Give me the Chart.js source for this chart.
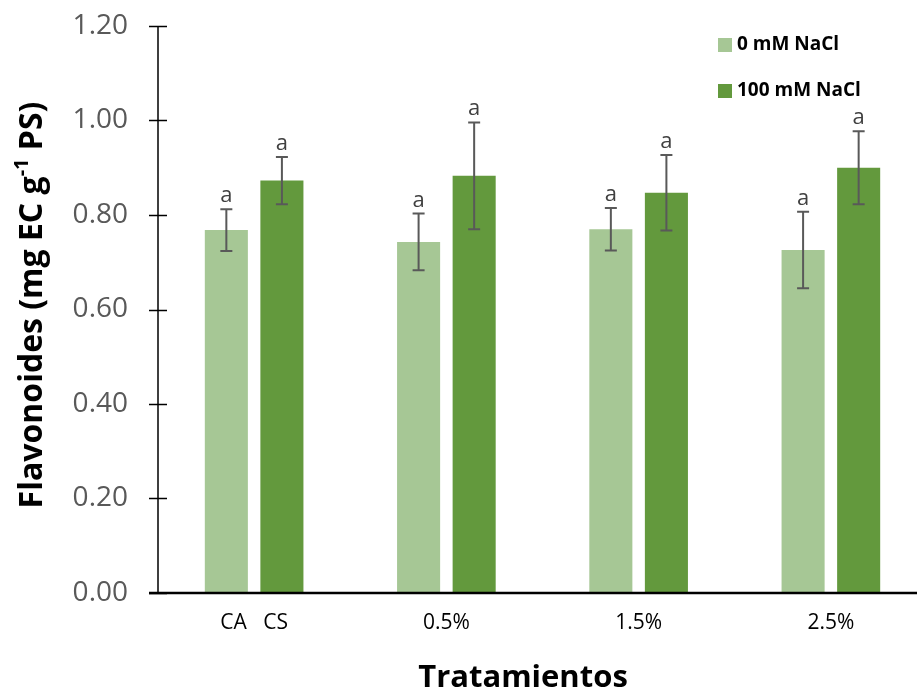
<!DOCTYPE html>
<html>
<head>
<meta charset="utf-8">
<script src="https://cdn.jsdelivr.net/npm/chart.js@4.4.0/dist/chart.umd.min.js"></script>
<style>
  html, body { margin: 0; padding: 0; background: #fff; overflow: hidden; }
  #wrap { width: 917px; height: 692px; overflow: hidden; }
</style>
</head>
<body>
<div id="wrap"><canvas id="chart" width="927" height="692"></canvas></div>
<script>
// Data
const categories = ['CA   CS', '0.5%', '1.5%', '2.5%'];
const seriesNames = ['0 mM NaCl', '100 mM NaCl'];
const salt0 = [0.768, 0.743, 0.770, 0.726];
const salt100 = [0.873, 0.883, 0.847, 0.900];
const err0 = [0.044, 0.060, 0.045, 0.081];
const err100 = [0.050, 0.113, 0.080, 0.077];
const letters0 = ['a', 'a', 'a', 'a'];
const letters100 = ['a', 'a', 'a', 'a'];
const yTicks = [0, 0.2, 0.4, 0.6, 0.8, 1.0, 1.2];

const COLORS = ['#a6c795', '#63993d'];
const FONT = "'Open Sans', 'Liberation Sans', sans-serif";

// error bars, letters, crossing ticks, titles, legend
const decorPlugin = {
    id: 'decor',
    afterDatasetsDraw(chart) {
        const ctx = chart.ctx;
        const y = chart.scales.y;
        const area = chart.chartArea;

        // error bars + significance letters
        const errs = [err0, err100];
        const letters = [letters0, letters100];
        chart.data.datasets.forEach((ds, di) => {
            const meta = chart.getDatasetMeta(di);
            meta.data.forEach((bar, i) => {
                const v = ds.data[i];
                const top = y.getPixelForValue(v + errs[di][i]);
                const bot = y.getPixelForValue(v - errs[di][i]);
                ctx.save();
                ctx.strokeStyle = '#595959';
                ctx.lineWidth = 2;
                ctx.beginPath();
                ctx.moveTo(bar.x, top); ctx.lineTo(bar.x, bot);
                ctx.moveTo(bar.x - 6, top); ctx.lineTo(bar.x + 6, top);
                ctx.moveTo(bar.x - 6, bot); ctx.lineTo(bar.x + 6, bot);
                ctx.stroke();
                ctx.fillStyle = '#404040';
                ctx.font = '22px ' + FONT;
                ctx.textAlign = 'center';
                ctx.textBaseline = 'alphabetic';
                ctx.fillText(letters[di][i], bar.x, top - 7);
                ctx.restore();
            });
        });

        // axis lines
        ctx.save();
        ctx.strokeStyle = '#000';
        ctx.lineWidth = 1.5;
        ctx.beginPath();
        ctx.moveTo(area.left, area.top);
        ctx.lineTo(area.left, area.bottom);
        yTicks.forEach(t => {
            const py = Math.round(y.getPixelForValue(t)) + 0.5;
            ctx.moveTo(area.left - 9, py);
            ctx.lineTo(area.left + 9, py);
        });
        ctx.stroke();
        ctx.lineWidth = 2.5;
        ctx.beginPath();
        ctx.moveTo(area.left - 9, area.bottom);
        ctx.lineTo(chart.width, area.bottom);
        ctx.stroke();
        ctx.restore();

        // y title with superscript
        ctx.save();
        ctx.translate(33, 305);
        ctx.rotate(-Math.PI / 2);
        ctx.fillStyle = '#000';
        ctx.textBaseline = 'middle';
        const big = 'bold 32px ' + FONT;
        const small = 'bold 20px ' + FONT;
        const parts = [['Flavonoides (mg EC g', big, 0], ['-1', small, -11], [' PS)', big, 0]];
        let total = 0;
        parts.forEach(p => { ctx.font = p[1]; total += ctx.measureText(p[0]).width; });
        let x = -total / 2;
        ctx.textAlign = 'left';
        parts.forEach(p => {
            ctx.font = p[1];
            ctx.fillText(p[0], x, p[2]);
            x += ctx.measureText(p[0]).width;
        });
        ctx.restore();

        // x title
        ctx.save();
        ctx.fillStyle = '#000';
        ctx.font = 'bold 31px ' + FONT;
        ctx.textAlign = 'center';
        ctx.textBaseline = 'middle';
        ctx.fillText('Tratamientos', 523, 678);
        ctx.restore();

        // legend
        ctx.save();
        ctx.font = 'bold 19px ' + FONT;
        ctx.textBaseline = 'middle';
        ctx.textAlign = 'left';
        seriesNames.forEach((name, i) => {
            const cy = 45 + i * 46;
            ctx.fillStyle = COLORS[i];
            ctx.fillRect(718, cy - 7, 14, 14);
            ctx.fillStyle = '#000';
            ctx.fillText(name, 737, cy);
        });
        ctx.restore();
    }
};

new Chart(document.getElementById('chart'), {
    type: 'bar',
    data: {
        labels: categories,
        datasets: [
            { label: seriesNames[0], data: salt0, backgroundColor: COLORS[0] },
            { label: seriesNames[1], data: salt100, backgroundColor: COLORS[1] }
        ]
    },
    options: {
        responsive: false,
        devicePixelRatio: 1,
        animation: false,
        categoryPercentage: 0.578,
        barPercentage: 0.775,
        layout: { padding: { top: 26, left: 0, right: 0, bottom: 0 } },
        plugins: {
            legend: { display: false },
            tooltip: { enabled: false }
        },
        scales: {
            x: {
                grid: { display: false },
                border: { display: false },
                ticks: { color: '#000', font: { family: FONT, size: 21 }, padding: 9 },
                afterFit(scale) {
                    scale.height = 99;
                    scale.paddingLeft = 0;
                    scale.paddingRight = 0;
                }
            },
            y: {
                min: 0,
                max: 1.2,
                afterBuildTicks(scale) { scale.ticks = yTicks.map(v => ({ value: v })); },
                grid: { display: false },
                border: { display: false },
                ticks: {
                    color: '#595959',
                    padding: 22,
                    font: { family: FONT, size: 28 },
                    callback: v => v.toFixed(2)
                },
                afterFit(scale) {
                    scale.width = 158;
                    scale.paddingTop = 0;
                    scale.paddingBottom = 0;
                }
            }
        }
    },
    plugins: [decorPlugin]
});
</script>
</body>
</html>
